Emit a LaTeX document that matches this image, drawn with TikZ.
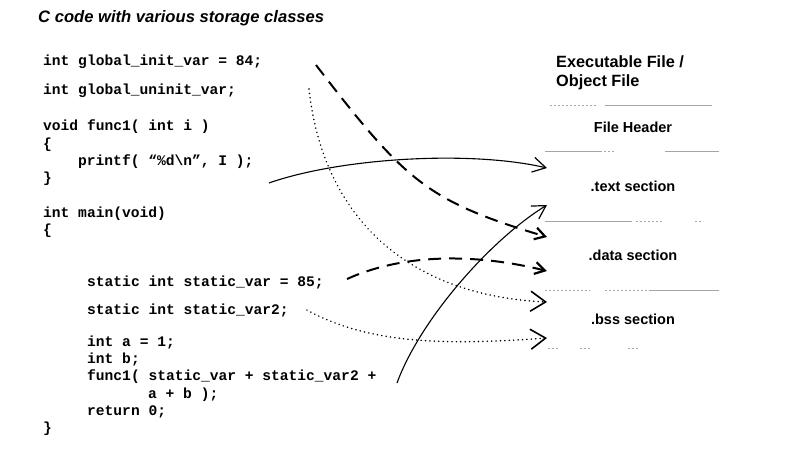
\documentclass[tikz,border=0pt]{standalone}
\usepackage{fontspec}
\setmainfont{Liberation Sans}
\setmonofont{Liberation Mono}
\usetikzlibrary{arrows.meta}
\begin{document}
\begin{tikzpicture}[x=1pt,y=-1pt,
  code/.style={anchor=base west, inner sep=0pt, font=\fontsize{14.6}{17}\selectfont\ttfamily\bfseries},
  ttl/.style={anchor=base west, inner sep=0pt, font=\fontsize{16.6}{19}\selectfont\bfseries\itshape},
  hdr/.style={anchor=base west, inner sep=0pt, font=\fontsize{16.3}{18}\selectfont\bfseries},
  sect/.style={anchor=base, inner sep=0pt, font=\fontsize{14.5}{17}\selectfont\bfseries},
  sepl/.style={draw=black!35, line width=0.8pt},
  sepd/.style={draw=black!35, line width=0.8pt, dash pattern=on 2pt off 2pt},
  solidc/.style={line width=1.1pt, -{Straight Barb[length=13pt,width=15pt,line width=1.2pt]}},
  dashc/.style={line width=2pt, dash pattern=on 13pt off 8pt, -{Straight Barb[length=10pt,width=12pt,line width=2.2pt]}},
  dotc/.style={line width=1.7pt, line cap=round, dash pattern=on 0.01pt off 4.4pt, -{Straight Barb[length=15pt,width=20pt,line width=1.6pt,line cap=butt]}}
]
\useasboundingbox (0,0) rectangle (799,448);

% title
\node[ttl] (title) at (38,22) {C code with various storage classes};

% code
\node[code] (l1) at (43,65) {int global\_init\_var = 84;};
\node[code] (l2) at (43,94) {int global\_uninit\_var;};
\node[code] (l3) at (43,130) {void func1( int i )};
\node[code] (l4) at (43,148) {\{};
\node[code] (l5) at (78,165) {printf( “\%d\textbackslash n”, I );};
\node[code] (l6) at (43,182) {\}};
\node[code] (l7) at (43,217) {int main(void)};
\node[code] (l8) at (43,234) {\{};
\node[code] (l9) at (87,286) {static int static\_var = 85;};
\node[code] (l10) at (87,314) {static int static\_var2;};
\node[code] (l11) at (87,346) {int a = 1;};
\node[code] (l12) at (87,363) {int b;};
\node[code] (l13) at (87,380) {func1( static\_var + static\_var2 +};
\node[code] (l14) at (148,398) {a + b );};
\node[code] (l15) at (87,415) {return 0;};
\node[code] (l16) at (43,432) {\}};

% file layout
\node[hdr] (exe) at (556,67) {Executable File /};
\node[hdr] (obj) at (556,86) {Object File};
\node[sect] (fh) at (633,132) {File Header};
\node[sect] (txt) at (633,191) {.text section};
\node[sect] (dat) at (633,260) {.data section};
\node[sect] (bss) at (633,324) {.bss section};

% faint separators
\draw[sepd] (550,105) -- (598,105);
\draw[sepl] (605,105) -- (712,105);
\draw[sepl] (545,151) -- (600,151);
\draw[sepd] (600,151) -- (614,151);
\draw[sepl] (665,151) -- (719,151);
\draw[sepl] (545,221) -- (632,221);
\draw[sepd] (636,221) -- (664,221);
\draw[sepd] (695,221) -- (702,221);
\draw[sepd] (545,290) -- (590,290);
\draw[sepd] (605,290) -- (650,290);
\draw[sepl] (650,290) -- (719,290);
\draw[sepd] (548,348) -- (560,348);
\draw[sepd] (580,348) -- (592,348);
\draw[sepd] (628,348) -- (640,348);

% connector ends
\coordinate (s1) at (269,183); \coordinate (e1) at (547,168);
\coordinate (s2) at (316,65);  \coordinate (e2) at (547,237);
\coordinate (s3) at (347,279); \coordinate (e3) at (547,271);
\coordinate (s4) at (309,89);  \coordinate (e4) at (547,302);
\coordinate (s5) at (307,310); \coordinate (e5) at (547,338);
\coordinate (s6) at (397,383); \coordinate (e6) at (547,205);

% connectors
\draw[solidc] (s1) .. controls (340,158) and (470,150) .. (e1);
\draw[dashc] (s2) .. controls (406,182) and (427,201) .. (e2);
\draw[dashc] (s3) .. controls (400,255) and (470,252) .. (e3);
\draw[dotc] (s4) .. controls (322,210) and (400,295) .. (e4);
\draw[dotc] (s5) .. controls (370,345) and (450,345) .. (e5);
\draw[solidc] (s6) .. controls (420,320) and (490,240) .. (e6);
\end{tikzpicture}
\end{document}
